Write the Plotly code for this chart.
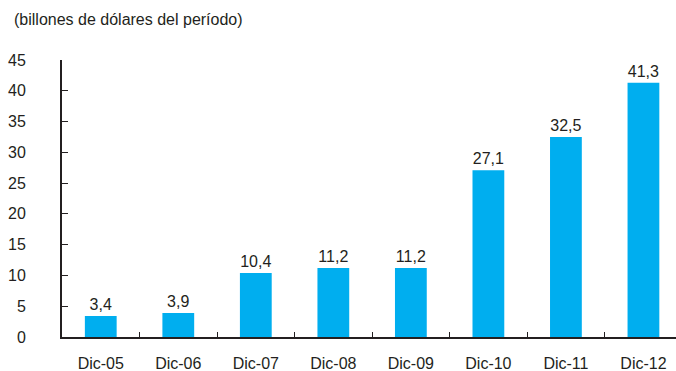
import plotly.graph_objects as go

# Series data
categorias = ["Dic-05", "Dic-06", "Dic-07", "Dic-08", "Dic-09", "Dic-10", "Dic-11", "Dic-12"]
valores = [3.4, 3.9, 10.4, 11.2, 11.2, 27.1, 32.5, 41.3]
etiquetas = [f"{v:.1f}".replace(".", ",") for v in valores]
y_ticks = [0, 5, 10, 15, 20, 25, 30, 35, 40, 45]

FONT = "Liberation Sans, Arial, Helvetica, sans-serif"
AXIS_COLOR = "#231f20"
FS = 16

fig = go.Figure(
    go.Bar(
        x=categorias,
        y=valores,
        text=etiquetas,
        textposition="outside",
        textfont=dict(family=FONT, size=FS, color="#231f20"),
        cliponaxis=False,
        marker=dict(color="#00aeef", line=dict(width=0)),
        width=0.41,
    )
)

fig.update_layout(
    width=676,
    height=371,
    margin=dict(l=62, r=0, t=60, b=34),
    paper_bgcolor="white",
    plot_bgcolor="white",
    showlegend=False,
    font=dict(family=FONT, size=FS, color="#231f20"),
    annotations=[
        dict(
            text="(billones de dólares del período)",
            xref="paper", yref="paper",
            x=-50 / 614, y=1 + 40 / 277,
            xanchor="left", yanchor="middle",
            showarrow=False,
            font=dict(family=FONT, size=FS, color="#231f20"),
        )
    ],
)

fig.update_xaxes(
    range=[-0.5, 7.42],
    showline=True,
    linecolor=AXIS_COLOR,
    linewidth=2,
    ticks="inside",
    tickson="boundaries",
    ticklen=5,
    tickcolor=AXIS_COLOR,
    tickwidth=1,
    showgrid=False,
    ticklabelstandoff=11,
    automargin=False,
    tickfont=dict(family=FONT, size=FS),
)

fig.update_yaxes(
    range=[0, 45],
    tickvals=y_ticks,
    showline=True,
    linecolor=AXIS_COLOR,
    linewidth=2,
    ticks="inside",
    ticklen=6,
    tickcolor=AXIS_COLOR,
    tickwidth=1,
    showgrid=False,
    zeroline=False,
    ticklabelstandoff=31,
    automargin=False,
    tickfont=dict(family=FONT, size=FS),
)

fig.write_html("out.html")
